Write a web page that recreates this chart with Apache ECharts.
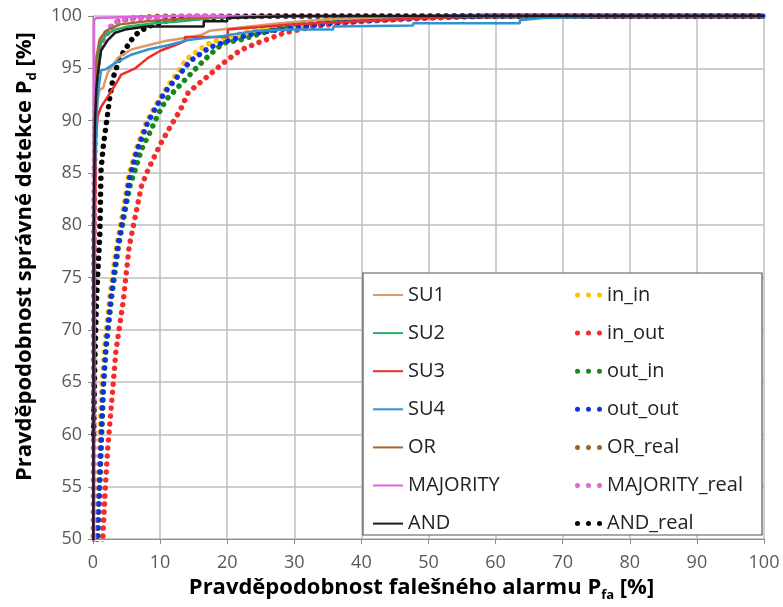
<!DOCTYPE html>
<html lang="cs">
<head>
<meta charset="UTF-8">
<title>ROC</title>
<script src="https://cdn.jsdelivr.net/npm/echarts@6/dist/echarts.min.js"></script>
<style>
  html, body { margin: 0; padding: 0; background: #fff; }
  #chart { width: 783px; height: 607px; }
</style>
</head>
<body>
<div id="chart"></div>
<script>
// [Pfa %, Pd %]
const su1 = [[0.05,48],[0.2,80],[0.4,88],[0.6,91.6],[1.0,93],[1.5,93.1],[2.2,94.6],[3.7,96],[5.7,96.8],[8.2,97.2],[10.7,97.6],[13.7,97.9],[16.2,98.2],[17.4,98.6],[21.9,98.9],[27.9,99.3],[35,99.7],[50,100],[100,100]];
const su2 = [[0.05,48],[0.2,85],[0.5,94],[0.8,96.5],[1.2,97.4],[1.9,98.2],[3.3,98.7],[5.2,99],[9.2,99.3],[13.1,99.5],[18,99.8],[25,100],[100,100]];
const su3 = [[0.1,48],[0.2,70],[0.3,80],[0.4,86],[0.5,88.9],[0.7,90.4],[1.2,91.3],[2.2,92.3],[3.3,93.4],[4.2,94.4],[6.3,95],[8.2,96],[10.1,96.7],[12.2,97.2],[13.7,97.6],[13.7,98],[20.1,98],[20.1,98.7],[30,99.2],[40,99.5],[50,99.8],[60,100],[100,100]];
const su4 = [[0.05,48],[0.2,82],[0.4,88],[0.7,92.5],[1.2,94.8],[1.9,94.9],[3.3,95.5],[5.7,96.3],[8.2,96.8],[11.2,97.2],[14.2,97.7],[19.4,98.1],[24.4,98.6],[29.4,98.7],[35.8,98.7],[35.8,99],[47.7,99.1],[47.7,99.3],[63.6,99.3],[63.6,99.6],[67,99.8],[74,99.9],[75,100],[100,100]];
const orSolid = [[0.05,48],[0.2,90],[0.5,96],[1,97.8],[2,98.6],[4,99.2],[8,99.5],[15,99.8],[25,100],[100,100]];
const majority = [[0.15,48],[0.15,99.6],[0.5,99.8],[10,100],[100,100]];
const andSolid = [[0.05,48],[0.1,80],[0.3,90],[0.5,93],[0.7,94.4],[1.2,96.7],[2.2,97.7],[3.3,98.4],[4.8,98.7],[7.9,99],[16.5,99],[16.5,99.5],[20,99.5],[20,99.8],[30,100],[100,100]];

const inIn = [[0.45,48],[0.55,50.8],[1.3,64.4],[1.7,68.2],[2.5,73.2],[3.5,78],[4.6,81.8],[5.3,84.7],[6.5,87.4],[8,89.9],[9.2,91.3],[10.5,92.7],[14,95.9],[17,97.3],[20,98],[24,98.6],[28,99],[35,99.5],[45,99.9],[55,100],[100,100]];
const inOut = [[1.3,48],[1.5,50.8],[1.8,54.6],[2.2,58.7],[2.7,62.5],[3.4,67.9],[4.5,72.7],[5.4,78],[7.2,83.7],[8.2,85.3],[10,87.7],[11.5,89.4],[13,91],[14.2,92.7],[17.4,94.4],[19.4,95.5],[21.9,96.7],[24.4,97.4],[28.6,98.4],[33,99],[40,99.5],[50,99.8],[60,100],[100,100]];
const outIn = [[0.6,48],[0.75,50.8],[1.55,64.4],[1.95,68.2],[2.8,73.2],[3.8,78],[4.9,81.8],[5.6,84],[6.3,85.3],[7.2,87.2],[8.5,88.9],[9.7,90.6],[10.9,92],[15.2,94.9],[17.4,96.3],[19.4,97.4],[21.9,97.7],[26.4,98.6],[30.4,99.3],[36,99.6],[45,99.9],[55,100],[100,100]];
const outOut = [[0.55,48],[0.7,50.8],[1.5,64.4],[1.9,68.2],[2.7,73.2],[3.7,78],[4.8,81.8],[5.5,84.7],[6.7,87.4],[8.2,89.9],[9.4,91.3],[10.7,92.7],[14.5,95.7],[17.4,97],[20.4,97.7],[24.4,98.4],[27.9,98.7],[35,99.3],[42,99.6],[50,99.9],[58,100],[100,100]];
const orReal = [[0.05,48],[0.1,70],[0.2,85],[0.4,92],[0.8,96],[1.5,97.7],[2.7,98.9],[3.7,99.5],[6,99.8],[10,100],[100,100]];
const majorityReal = [[0.1,48],[0.15,70],[0.25,88],[0.4,94.8],[0.7,96],[1.2,97.2],[1.9,98.4],[3,99.3],[4.2,99.6],[8,99.8],[15,100],[100,100]];
const andReal = [[0.1,60],[0.2,65],[0.3,67.5],[0.5,72.7],[1.0,79],[1.2,85.3],[1.5,87.4],[1.9,89.3],[2.5,92.2],[3.0,94.1],[4.0,96],[4.8,96.8],[5.7,97.7],[6.7,98.4],[8.2,99],[10.7,99.5],[12.7,99.7],[14.6,99.8],[25,100],[100,100]];

const solidNames = ['SU1', 'SU2', 'SU3', 'SU4', 'OR', 'MAJORITY', 'AND'];
const solidData = [su1, su2, su3, su4, orSolid, majority, andSolid];
const solidColors = ['#d99b6c', '#23b26d', '#ee2c2c', '#2e95d3', '#a8662d', '#e25fe0', '#1a1a1a'];

const dotNames = ['in_in', 'in_out', 'out_in', 'out_out', 'OR_real', 'MAJORITY_real', 'AND_real'];
const dotData = [inIn, inOut, outIn, outOut, orReal, majorityReal, andReal];
const dotColors = ['#ffc000', '#f52a2a', '#138a13', '#1133dd', '#a0622a', '#e066d8', '#000000'];

const font = 'Open Sans';

const series = [];
dotNames.forEach((name, i) => {
  series.push({
    name, type: 'line', data: dotData[i], symbol: 'none', z: 2,
    lineStyle: { color: dotColors[i], width: 5.5, type: [0.01, 8], cap: 'round' },
    itemStyle: { color: dotColors[i] }
  });
});
solidNames.forEach((name, i) => {
  series.push({
    name, type: 'line', data: solidData[i], symbol: 'none', z: 3,
    lineStyle: { color: solidColors[i], width: 2.5 },
    itemStyle: { color: solidColors[i] }
  });
});

const legendText = { fontFamily: font, fontSize: 20, color: '#222', lineHeight: 22 };
const titleRich = {
  a: { fontFamily: font, fontSize: 22, fontWeight: 'bold', color: '#000' },
  s: { fontFamily: font, fontSize: 13, fontWeight: 'bold', color: '#000', padding: [15, 0, 0, 0] }
};

const chart = echarts.init(document.getElementById('chart'));
chart.setOption({
  animation: false,
  grid: { left: 93, right: 19, top: 16, bottom: 66 },
  xAxis: {
    type: 'value', min: 0, max: 100, interval: 10,
    name: '{a|Pravděpodobnost falešného alarmu P}{s|fa}{a| [%]}',
    nameLocation: 'middle', nameGap: 33,
    nameTextStyle: { rich: titleRich, padding: [0, 14, 0, 0] },
    axisLine: { lineStyle: { color: '#8c8c8c', width: 1.2 } },
    axisTick: { show: true, length: 5, lineStyle: { color: '#8c8c8c' } },
    axisLabel: { fontFamily: font, fontSize: 18, color: '#595959', margin: 15 },
    splitLine: { lineStyle: { color: '#bfbfbf', width: 1.5 } }
  },
  yAxis: {
    type: 'value', min: 50, max: 100, interval: 5,
    name: '{a|Pravděpodobnost správné detekce P}{s|d}{a| [%]}',
    nameLocation: 'middle', nameGap: 54,
    nameTextStyle: { rich: titleRich, padding: [0, 0, 0, 42] },
    axisLine: { show: true, lineStyle: { color: '#8c8c8c', width: 1.2 } },
    axisTick: { show: true, length: 5, lineStyle: { color: '#8c8c8c' } },
    axisLabel: { fontFamily: font, fontSize: 18, color: '#595959', margin: 11 },
    splitLine: { lineStyle: { color: '#bfbfbf', width: 1.5 } }
  },
  graphic: [{
    type: 'rect', z: 5,
    shape: { x: 363, y: 273, width: 399, height: 262 },
    style: { fill: '#fff', stroke: '#555', lineWidth: 1.2 }
  }],
  legend: [
    {
      data: solidNames, orient: 'vertical', left: 373, top: 284, z: 10,
      itemWidth: 30, itemHeight: 14, itemGap: 16.1, padding: 0,
      icon: 'path://M0,6 L30,6 L30,8 L0,8 Z',
      textStyle: legendText
    },
    {
      data: dotNames, orient: 'vertical', left: 575, top: 284, z: 10,
      itemWidth: 27, itemHeight: 5, itemGap: 16.1, padding: 0,
      icon: 'path://M0,2.5a2.5,2.5 0 1,0 5,0a2.5,2.5 0 1,0 -5,0M11,2.5a2.5,2.5 0 1,0 5,0a2.5,2.5 0 1,0 -5,0M22,2.5a2.5,2.5 0 1,0 5,0a2.5,2.5 0 1,0 -5,0',
      textStyle: legendText
    }
  ],
  series
});
</script>
</body>
</html>
